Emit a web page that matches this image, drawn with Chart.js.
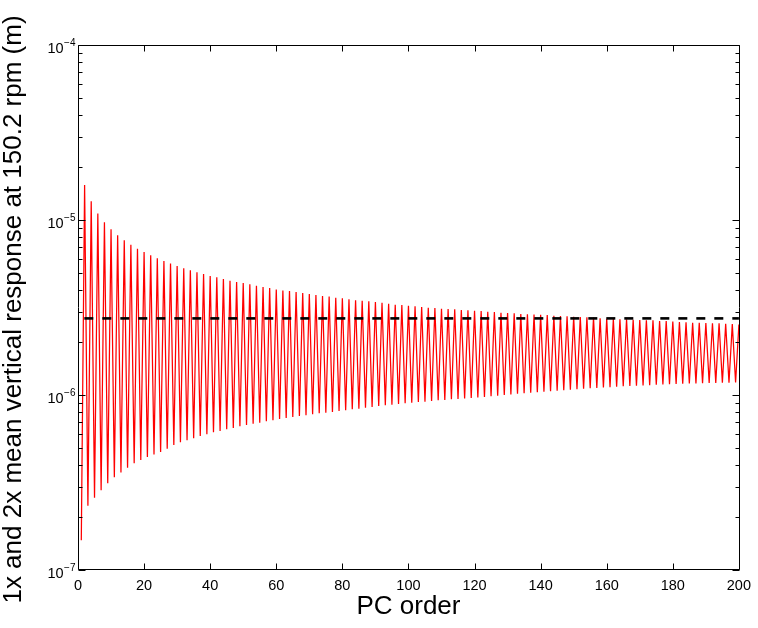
<!DOCTYPE html>
<html>
<head>
<meta charset="utf-8">
<script src="https://cdn.jsdelivr.net/npm/chart.js@4.4.1/dist/chart.umd.min.js"></script>
<style>
  html, body { margin: 0; padding: 0; background: #fff; }
  canvas { display: block; }
</style>
</head>
<body>
<canvas id="responseChart" width="758" height="628"></canvas>
<script>
// response at odd PC orders (1, 3, ..., 199)
const oddOrderResponse = [
  1.48e-7, 2.33e-7, 2.59e-7, 2.86e-7, 3.13e-7, 3.39e-7, 3.61e-7, 3.84e-7, 4.07e-7, 4.25e-7,
  4.42e-7, 4.57e-7, 4.73e-7, 4.93e-7, 5.18e-7, 5.37e-7, 5.51e-7, 5.66e-7, 5.83e-7, 5.96e-7,
  6.12e-7, 6.23e-7, 6.37e-7, 6.48e-7, 6.62e-7, 6.74e-7, 6.86e-7, 6.95e-7, 7.08e-7, 7.17e-7,
  7.29e-7, 7.39e-7, 7.49e-7, 7.59e-7, 7.66e-7, 7.76e-7, 7.86e-7, 7.92e-7, 7.99e-7, 8.10e-7,
  8.18e-7, 8.29e-7, 8.36e-7, 8.46e-7, 8.53e-7, 8.65e-7, 8.73e-7, 8.81e-7, 8.88e-7, 8.97e-7,
  9.04e-7, 9.12e-7, 9.16e-7, 9.24e-7, 9.32e-7, 9.36e-7, 9.45e-7, 9.49e-7, 9.54e-7, 9.61e-7,
  9.67e-7, 9.74e-7, 9.83e-7, 9.91e-7, 1.000e-6, 1.008e-6, 1.016e-6, 1.024e-6, 1.031e-6, 1.037e-6,
  1.044e-6, 1.051e-6, 1.058e-6, 1.065e-6, 1.072e-6, 1.079e-6, 1.086e-6, 1.092e-6, 1.098e-6, 1.104e-6,
  1.109e-6, 1.115e-6, 1.121e-6, 1.125e-6, 1.130e-6, 1.135e-6, 1.139e-6, 1.144e-6, 1.148e-6, 1.153e-6,
  1.156e-6, 1.159e-6, 1.162e-6, 1.165e-6, 1.168e-6, 1.171e-6, 1.173e-6, 1.175e-6, 1.176e-6, 1.178e-6
];

// response at even PC orders (2, 4, ..., 200)
const evenOrderResponse = [
  1.585e-5, 1.28e-5, 1.09e-5, 9.70e-6, 8.85e-6, 8.18e-6, 7.65e-6, 7.22e-6, 6.86e-6, 6.56e-6,
  6.29e-6, 6.04e-6, 5.83e-6, 5.64e-6, 5.46e-6, 5.30e-6, 5.16e-6, 5.03e-6, 4.91e-6, 4.79e-6,
  4.71e-6, 4.60e-6, 4.50e-6, 4.42e-6, 4.37e-6, 4.29e-6, 4.21e-6, 4.14e-6, 4.09e-6, 4.01e-6,
  3.96e-6, 3.93e-6, 3.88e-6, 3.83e-6, 3.78e-6, 3.73e-6, 3.68e-6, 3.65e-6, 3.60e-6, 3.57e-6,
  3.52e-6, 3.48e-6, 3.46e-6, 3.43e-6, 3.40e-6, 3.36e-6, 3.32e-6, 3.28e-6, 3.27e-6, 3.23e-6,
  3.21e-6, 3.18e-6, 3.15e-6, 3.14e-6, 3.11e-6, 3.10e-6, 3.09e-6, 3.06e-6, 3.05e-6, 3.03e-6,
  3.02e-6, 2.99e-6, 2.98e-6, 2.95e-6, 2.94e-6, 2.93e-6, 2.90e-6, 2.89e-6, 2.88e-6, 2.87e-6,
  2.86e-6, 2.84e-6, 2.83e-6, 2.82e-6, 2.80e-6, 2.79e-6, 2.78e-6, 2.77e-6, 2.74e-6, 2.73e-6,
  2.72e-6, 2.71e-6, 2.71e-6, 2.69e-6, 2.68e-6, 2.67e-6, 2.67e-6, 2.65e-6, 2.65e-6, 2.63e-6,
  2.61e-6, 2.60e-6, 2.59e-6, 2.59e-6, 2.58e-6, 2.57e-6, 2.57e-6, 2.55e-6, 2.54e-6, 2.53e-6
];

// mean level, drawn dashed across the orders
const meanResponse = 2.74e-6;
const meanRange = [1, 200];

const xTickValues = [0, 20, 40, 60, 80, 100, 120, 140, 160, 180, 200];
const yDecades = [-7, -6, -5, -4];

const FONT = '"Liberation Sans", Arial, Helvetica, sans-serif';

// interleave odd/even orders into one zigzag series
const responseSeries = [];
oddOrderResponse.forEach((v, k) => {
  responseSeries.push({ x: 2 * k + 1, y: v });
  responseSeries.push({ x: 2 * k + 2, y: evenOrderResponse[k] });
});

// box, inward ticks and 10^n labels drawn like a matlab axes
const matlabAxes = {
  id: 'matlabAxes',
  afterDatasetsDraw(chart) {
    const { ctx, chartArea: a, scales: { x, y } } = chart;
    const L = Math.round(a.left) + 0.5, R = Math.round(a.right) + 0.5;
    const T = Math.round(a.top) + 0.5, B = Math.round(a.bottom) - 0.5;
    ctx.save();
    ctx.strokeStyle = '#000';
    ctx.lineWidth = 1;
    ctx.beginPath();
    ctx.rect(L, T, R - L, B - T);

    xTickValues.forEach(v => {
      const px = Math.round(x.getPixelForValue(v)) + 0.5;
      ctx.moveTo(px, B); ctx.lineTo(px, B - 6);
      ctx.moveTo(px, T); ctx.lineTo(px, T + 6);
    });

    yDecades.forEach((e, i) => {
      for (let m = 1; m <= 9; m++) {
        if (m > 1 && i === yDecades.length - 1) break;
        const py = Math.round(y.getPixelForValue(m * Math.pow(10, e))) + 0.5;
        const len = m === 1 ? 7 : 4;
        ctx.moveTo(L, py); ctx.lineTo(L + len, py);
        ctx.moveTo(R, py); ctx.lineTo(R - len, py);
      }
    });
    ctx.stroke();

    ctx.fillStyle = '#000';
    ctx.textAlign = 'right';
    ctx.textBaseline = 'alphabetic';
    yDecades.forEach(e => {
      const py = y.getPixelForValue(Math.pow(10, e));
      const sup = '\u2212' + Math.abs(e);
      ctx.font = '10px ' + FONT;
      const supW = ctx.measureText(sup).width;
      ctx.fillText(sup, 75.5, py + 0.5);
      ctx.font = '14.5px ' + FONT;
      ctx.fillText('10', 75.5 - supW - 0.5, py + 8);
    });

    // vertical axis title
    ctx.translate(20.5, (a.top + a.bottom) / 2 + 2);
    ctx.rotate(-Math.PI / 2);
    ctx.textAlign = 'center';
    ctx.font = '26px ' + FONT;
    ctx.fillText('1x and 2x mean vertical response at 150.2 rpm (m)', 0, 0);
    ctx.restore();
  }
};

const ctx = document.getElementById('responseChart').getContext('2d');

new Chart(ctx, {
  type: 'line',
  data: {
    datasets: [
      {
        data: [{ x: meanRange[0], y: meanResponse }, { x: meanRange[1], y: meanResponse }],
        borderColor: '#000',
        borderWidth: 2.6,
        borderDash: [9, 9],
        borderDashOffset: 15,
        pointRadius: 0,
        order: 0
      },
      {
        data: responseSeries,
        borderColor: '#ff0000',
        borderWidth: 1.25,
        pointRadius: 0,
        tension: 0,
        order: 1
      }
    ]
  },
  options: {
    responsive: false,
    animation: false,
    devicePixelRatio: 1,
    layout: { padding: { left: 78, top: 45, right: 17, bottom: 0 } },
    plugins: {
      legend: { display: false },
      tooltip: { enabled: false }
    },
    scales: {
      x: {
        type: 'linear',
        min: 0,
        max: 200,
        afterBuildTicks: scale => { scale.ticks = xTickValues.map(v => ({ value: v })); },
        afterFit: scale => { scale.height = 58; },
        grid: { display: false, drawTicks: false },
        border: { display: false },
        ticks: {
          autoSkip: false,
          maxRotation: 0,
          padding: 7,
          color: '#000',
          font: { family: FONT, size: 14.5 }
        },
        title: {
          display: true,
          text: 'PC order',
          color: '#000',
          font: { family: FONT, size: 26 },
          padding: { top: 0, bottom: 6 }
        }
      },
      y: {
        type: 'logarithmic',
        min: 1e-7,
        max: 1e-4,
        display: false
      }
    }
  },
  plugins: [matlabAxes]
});
</script>
</body>
</html>
